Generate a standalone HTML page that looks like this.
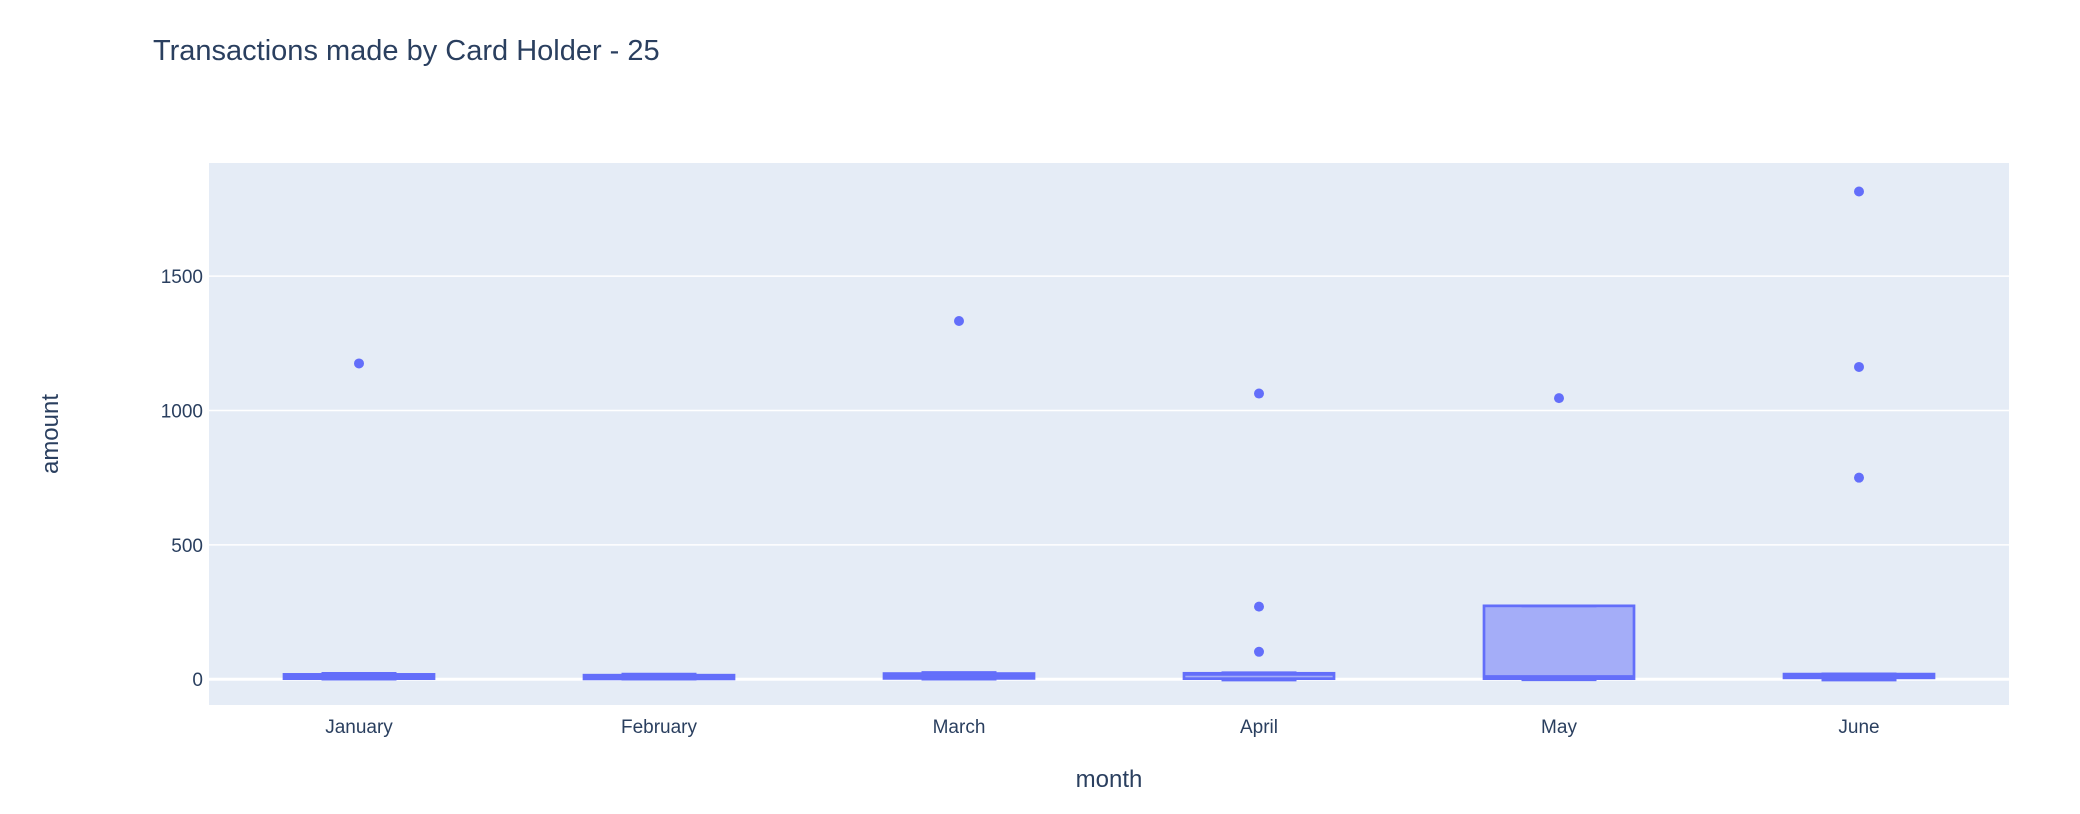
<!DOCTYPE html>
<html><head><meta charset="utf-8"><style>
body{margin:0;background:#fff;}
svg{display:block;font-family:"Liberation Sans","DejaVu Sans",sans-serif;}
</style></head><body>
<svg id="chart" width="2080" height="814" viewBox="0 0 2080 814">
<rect x="209" y="163" width="1800" height="542" fill="#e5ecf6"/>
<g id="grid"></g>
<g id="boxes"></g>
<text x="153" y="60" font-size="29" fill="#2a3f5f">Transactions made by Card Holder - 25</text>
<text x="1109" y="787" font-size="24" fill="#2a3f5f" text-anchor="middle">month</text>
<text transform="translate(58,434) rotate(-90)" font-size="24" fill="#2a3f5f" text-anchor="middle">amount</text>
</svg>
<script>
const categories=["January","February","March","April","May","June"];
const q1=[2,1,3,2,2,5];
const medians=[11,10,12,18,10,15];
const q3=[18,15,21,22,273,19];
const lowerWhisker=[0,0,0,-3,-2,-3];
const upperWhisker=[22,19,25,24,273,20];
const outliers=[[1175],[],[1333],[1063,270,102],[1046],[1815,1162,750]];
const yTicks=[0,500,1000,1500];
const yMin=-96,yMax=1921;
const L=209,R=2009,T=163,B=705;
const ns="http://www.w3.org/2000/svg";
function y(v){return B-(v-yMin)/(yMax-yMin)*(B-T);}
function x(i){return L+(i+0.5)*(R-L)/categories.length;}
function mk(tag,attrs,parent){const e=document.createElementNS(ns,tag);for(const k in attrs)e.setAttribute(k,attrs[k]);parent.appendChild(e);return e;}
const grid=document.getElementById('grid'),boxes=document.getElementById('boxes'),svg=document.getElementById('chart');
yTicks.forEach(t=>{
 const l=mk('line',{x1:L,x2:R,y1:y(t),y2:y(t),stroke:'#fff','stroke-width':t===0?3:1.5},grid);
 
 
 const tx=mk('text',{x:L-6,y:y(t)+7,'font-size':19,fill:'#2a3f5f','text-anchor':'end'},grid);
 tx.textContent=t;
 
 
});
const w=150;
categories.forEach((c,i)=>{
 const cx=x(i);
 const g=mk('g',{},boxes);
 
 
 mk('line',{x1:cx,x2:cx,y1:y(lowerWhisker[i]),y2:y(q1[i]),stroke:'#636efa','stroke-width':2.7},g);
 mk('line',{x1:cx,x2:cx,y1:y(q3[i]),y2:y(upperWhisker[i]),stroke:'#636efa','stroke-width':2.7},g);
 mk('line',{x1:cx-w/4,x2:cx+w/4,y1:y(lowerWhisker[i]),y2:y(lowerWhisker[i]),stroke:'#636efa','stroke-width':2.7},g);
 mk('line',{x1:cx-w/4,x2:cx+w/4,y1:y(upperWhisker[i]),y2:y(upperWhisker[i]),stroke:'#636efa','stroke-width':2.7},g);
 mk('rect',{x:cx-w/2,y:y(q3[i]),width:w,height:Math.max(1,y(q1[i])-y(q3[i])),fill:'rgba(99,110,250,0.5)',stroke:'#636efa','stroke-width':2.7},g);
 mk('line',{x1:cx-w/2,x2:cx+w/2,y1:y(medians[i]),y2:y(medians[i]),stroke:'#636efa','stroke-width':2.7},g);
 outliers[i].forEach(v=>{
  const p=mk('circle',{cx:cx,cy:y(v),r:5,fill:'#636efa'},g);
  
  
 });
 const tx=mk('text',{x:cx,y:733,'font-size':19,fill:'#2a3f5f','text-anchor':'middle'},svg);
 tx.textContent=c;
 
 
});
</script>
</body></html>
